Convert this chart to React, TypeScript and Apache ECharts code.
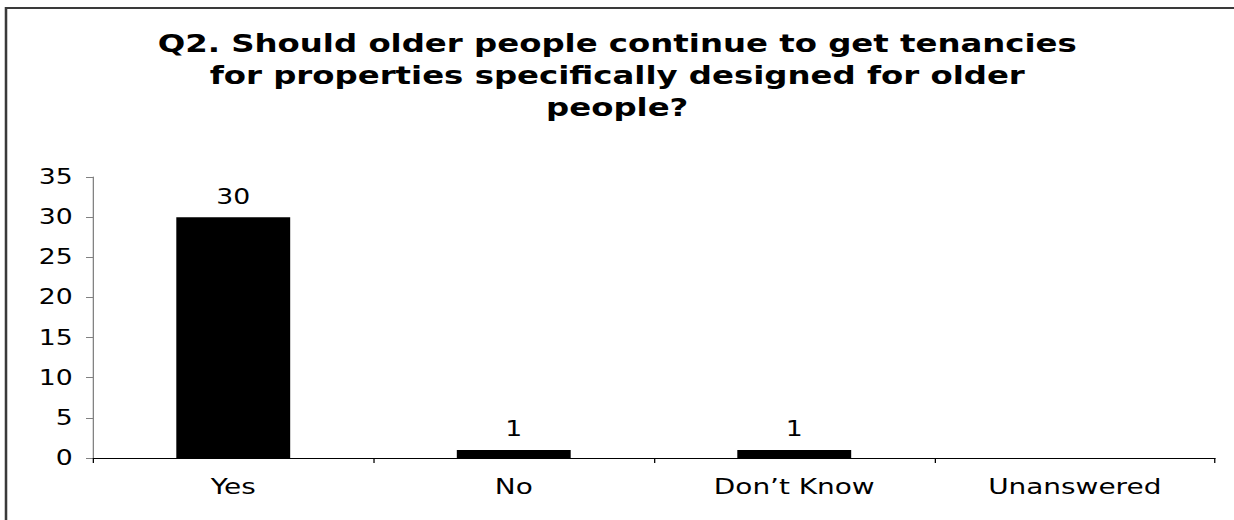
import React, { useEffect, useRef } from "react";
import * as echarts from "echarts";

const categories: string[] = ["Yes", "No", "Don\u2019t Know", "Unanswered"];
const counts: number[] = [30, 1, 1, 0];
const yTicks = { min: 0, max: 35, interval: 5 };
const titleText =
  "Q2. Should older people continue to get tenancies\nfor properties specifically designed for older\npeople?";

const SX = 1.27; // horizontal stretch of the reference rendering
const W = 1234;
const H = 520;
const FONT = "'DejaVu Sans', Verdana, sans-serif";

export default function App() {
  const ref = useRef<HTMLDivElement>(null);

  useEffect(() => {
    if (!ref.current) return;
    const chart = echarts.init(ref.current, undefined, { renderer: "svg" });
    chart.setOption({
      animation: false,
      backgroundColor: "#fff",
      graphic: [
        {
          type: "polyline",
          silent: true,
          shape: {
            points: [
              [6 / SX, H + 10],
              [6 / SX, 8],
              [W / SX + 10, 8],
            ],
          },
          style: { stroke: "#3a3a3a", lineWidth: 2, fill: "none" },
        },
      ],
      title: {
        text: titleText,
        left: "center",
        top: 27,
        padding: 0,
        textStyle: {
          fontFamily: FONT,
          fontSize: 25.5,
          fontWeight: "bold",
          lineHeight: 32,
          color: "#000",
        },
      },
      grid: {
        left: 93 / SX,
        width: 1122 / SX,
        top: 177,
        height: 281,
        containLabel: false,
      },
      xAxis: {
        type: "category",
        data: categories,
        axisLine: { show: true, lineStyle: { color: "#000", width: 1 } },
        axisTick: { show: true, length: 5, lineStyle: { color: "#000" } },
        axisLabel: {
          margin: 18,
          fontFamily: FONT,
          fontSize: 22,
          color: "#000",
        },
        splitLine: { show: false },
      },
      yAxis: {
        type: "value",
        min: yTicks.min,
        max: yTicks.max,
        interval: yTicks.interval,
        axisLine: { show: true, lineStyle: { color: "#808080", width: 1 } },
        axisTick: { show: true, length: 7 / SX, lineStyle: { color: "#808080" } },
        axisLabel: {
          margin: 16,
          fontFamily: FONT,
          fontSize: 21,
          color: "#000",
        },
        splitLine: { show: false },
      },
      series: [
        {
          type: "bar",
          data: counts,
          barWidth: "40.6%",
          itemStyle: { color: "#000" },
          label: {
            show: true,
            position: "top",
            distance: 10,
            fontFamily: FONT,
            fontSize: 21,
            color: "#000",
            formatter: (p: any) => (p.value === 0 ? "" : String(p.value)),
          },
        },
      ],
    });
    return () => chart.dispose();
  }, []);

  return (
    <div
      style={{
        position: "fixed",
        left: 0,
        top: 0,
        width: W,
        height: H,
        overflow: "hidden",
        background: "#fff",
      }}
    >
      <div
        ref={ref}
        style={{
          position: "absolute",
          left: 0,
          top: 0,
          width: W / SX,
          height: H,
          transform: `scaleX(${SX})`,
          transformOrigin: "0 0",
        }}
      />
    </div>
  );
}
